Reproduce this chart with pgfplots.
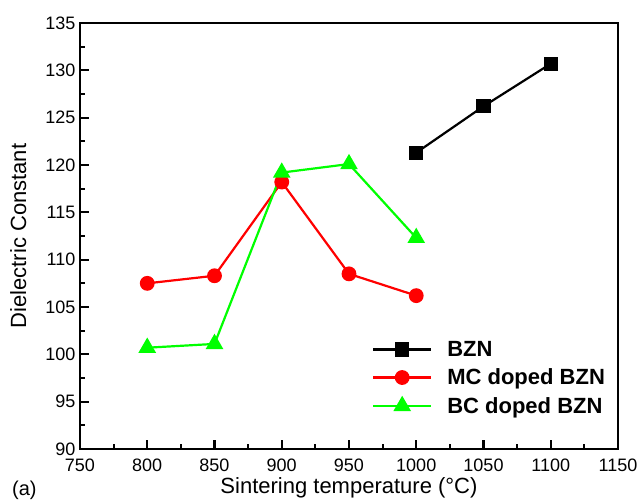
\documentclass[border=0pt]{standalone}
\usepackage{fontspec}
\setmainfont{Liberation Sans}
\usepackage{pgfplots}
\pgfplotsset{compat=1.18}
\begin{document}
\begin{tikzpicture}
\begin{axis}[
  scale only axis,
  width=538pt, height=426pt,
  xmin=750, xmax=1150, ymin=90, ymax=135,
  xtick={750,800,...,1150}, ytick={90,95,...,135},
  minor x tick num=1, minor y tick num=1,
  tick align=inside,
  xtick pos=bottom, ytick pos=left,
  major tick length=9pt, minor tick length=5pt,
  axis line style={line width=2.5pt},
  every tick/.style={line width=2.2pt, black},
  /pgf/number format/assume math mode=true,
  /pgf/number format/1000 sep={},
  ticklabel style={font=\fontsize{18}{21}\selectfont, inner sep=0.5pt},
  xticklabel style={yshift=-9pt},
  yticklabel style={xshift=-4pt},
  xlabel={Sintering temperature (°C)},
  ylabel={Dielectric Constant},
  label style={font=\fontsize{22}{26}\selectfont},
  xlabel style={yshift=-2pt},
  ylabel style={yshift=15pt},
  legend style={at={(rel axis cs:0.537,0.263)}, anchor=north west, draw=none, fill=none,
    font=\fontsize{22}{26}\bfseries, row sep=7pt, column sep=13pt},
  legend cell align=left,
  legend image code/.code={\draw[#1, mark=none] plot coordinates {(0pt,0pt) (58pt,0pt)};
     \draw[#1, only marks] plot coordinates {(29pt,0pt)};},
]
\addplot[black, line width=2.2pt, mark=square*, mark size=6pt, mark options={solid}] coordinates {
 (1000,121.3) (1050,126.2) (1100,130.7)};
\addlegendentry{BZN}
\addplot[red, line width=2.2pt, mark=*, mark size=6.3pt, mark options={solid}] coordinates {
 (800,107.5) (850,108.3) (900,118.2) (950,108.5) (1000,106.2)};
\addlegendentry{MC doped BZN}
\addplot[green, line width=2.2pt, mark=triangle*, mark size=8pt, mark options={solid}] coordinates {
 (800,100.7) (850,101.1) (900,119.2) (950,120.1) (1000,112.3)};
\addlegendentry{BC doped BZN}
\end{axis}
\node[anchor=base west, font=\fontsize{20}{24}\selectfont, inner sep=0pt] at ([xshift=-68pt,yshift=-46pt]current axis.south west) {(a)};
\pgfresetboundingbox
\path (current axis.south west) ++(-80pt,-52pt) rectangle ++(637pt,501pt);
\end{tikzpicture}
\end{document}
